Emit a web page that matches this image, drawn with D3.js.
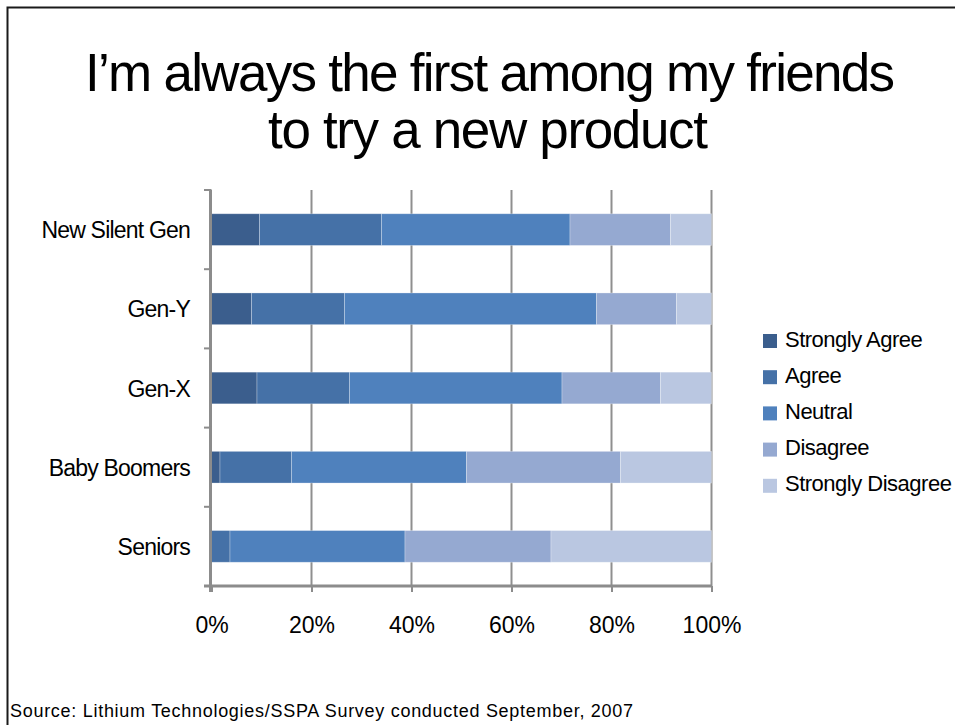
<!DOCTYPE html>
<html lang="en">
<head>
    <meta charset="UTF-8">
    <title>First among my friends</title>
    <script src="https://d3js.org/d3.v7.min.js"></script>
    <style>
        body { margin: 0; background: #fff; }
        svg text { font-family: "Liberation Sans", Arial, sans-serif; fill: #000; }
    </style>
</head>
<body>
<svg width="955" height="725"></svg>
<script>
    // data
    var groups = ["New Silent Gen", "Gen-Y", "Gen-X", "Baby Boomers", "Seniors"];
    var answers = ["Strongly Agree", "Agree", "Neutral", "Disagree", "Strongly Disagree"];
    var stronglyAgree    = [9.6, 8.0, 9.1, 1.7, 0];
    var agree            = [24.4, 18.6, 18.5, 14.3, 3.7];
    var neutral          = [37.7, 50.4, 42.5, 35.0, 35.0];
    var disagree         = [20.1, 16.0, 19.7, 30.8, 29.2];
    var stronglyDisagree = [8.2, 7.0, 10.2, 18.2, 32.1];
    var xTicks = [0, 20, 40, 60, 80, 100];
    var colors = ["#3b5e8d", "#4571a7", "#4f81bd", "#95a9d1", "#bac7e1"];

    var svg = d3.select("svg");

    // slide frame (top + left edge)
    svg.append("path")
        .attr("d", "M7.5,725 V7.5 H955")
        .attr("fill", "none")
        .attr("stroke", "#1a1a1a")
        .attr("stroke-width", 2);

    // title, squeezed like the original slide
    var title = svg.append("text")
        .attr("text-anchor", "middle")
        .attr("font-size", 53);
    title.append("tspan").attr("x", 490).attr("y", 91)
        .attr("textLength", 810).attr("lengthAdjust", "spacing")
        .text("I\u2019m always the first among my friends");
    title.append("tspan").attr("x", 488).attr("y", 148)
        .attr("textLength", 440).attr("lengthAdjust", "spacing")
        .text("to try a new product");

    var table = groups.map(function(g, i) {
        return {group: g, "Strongly Agree": stronglyAgree[i], "Agree": agree[i], "Neutral": neutral[i],
                "Disagree": disagree[i], "Strongly Disagree": stronglyDisagree[i]};
    });
    var stacked = d3.stack().keys(answers)(table);

    var x = d3.scaleLinear().domain([0, 100]).range([211.5, 711.5]);
    var y = d3.scaleBand().domain(groups).range([190, 586]).paddingInner(0.6).paddingOuter(0.3);
    var color = d3.scaleOrdinal().domain(answers).range(colors);

    // gridlines
    svg.append("g").selectAll("line")
        .data(xTicks.slice(1))
        .enter().append("line")
        .attr("x1", function(d) { return x(d); })
        .attr("x2", function(d) { return x(d); })
        .attr("y1", 190).attr("y2", 586)
        .attr("stroke", "#8f8f8f")
        .attr("stroke-width", 2);

    // bars
    svg.append("g").selectAll("g")
        .data(stacked)
        .enter().append("g")
        .attr("fill", function(d) { return color(d.key); })
        .selectAll("rect")
        .data(function(d) { return d; })
        .enter().append("rect")
        .attr("x", function(d) { return x(d[0]); })
        .attr("y", function(d) { return y(d.data.group); })
        .attr("width", function(d) { return x(d[1]) - x(d[0]); })
        .attr("height", y.bandwidth())
        .attr("stroke", "#ffffff")
        .attr("stroke-opacity", 0.35)
        .attr("stroke-width", 0.8);

    // y axis: ticks between categories
    var bounds = d3.range(groups.length + 1).map(function(i) { return 190 + i * y.step(); });
    var yAxis = svg.append("g");
    yAxis.append("line")
        .attr("x1", x(0) - 1).attr("x2", x(0) - 1)
        .attr("y1", 190).attr("y2", 592)
        .attr("stroke", "#8c8c8c").attr("stroke-width", 3);
    yAxis.selectAll(".tk")
        .data(bounds)
        .enter().append("line")
        .attr("class", "tk")
        .attr("x1", 204).attr("x2", x(0))
        .attr("y1", function(d) { return d; })
        .attr("y2", function(d) { return d; })
        .attr("stroke", "#8c8c8c").attr("stroke-width", 2);
    yAxis.selectAll("text")
        .data(groups)
        .enter().append("text")
        .attr("x", 190)
        .attr("y", function(d) { return y(d) + y.bandwidth() / 2 + 8.5; })
        .attr("text-anchor", "end")
        .attr("font-size", 23)
        .attr("letter-spacing", "-0.8")
        .text(function(d) { return d; });

    // x axis
    var xAxis = svg.append("g").attr("transform", "translate(0,586)")
        .call(d3.axisBottom(x).tickValues(xTicks).tickSize(6).tickFormat(function(d) { return d + "%"; }));
    xAxis.select(".domain").attr("stroke", "#8c8c8c").attr("stroke-width", 3).attr("d", "M204,0H711.5");
    xAxis.selectAll(".tick line").attr("stroke", "#8c8c8c").attr("stroke-width", 2);
    xAxis.selectAll(".tick text")
        .attr("font-size", 23)
        .attr("font-family", "Liberation Sans, Arial, sans-serif")
        .attr("fill", "#000")
        .attr("y", 31);

    // legend
    var legend = svg.append("g").selectAll("g")
        .data(answers)
        .enter().append("g")
        .attr("transform", function(d, i) { return "translate(763," + (341 + i * 36.2) + ")"; });
    legend.append("rect")
        .attr("x", 0).attr("y", -7)
        .attr("width", 14).attr("height", 14)
        .attr("fill", function(d) { return color(d); });
    legend.append("text")
        .attr("x", 22).attr("y", 5.5)
        .attr("font-size", 22)
        .attr("letter-spacing", "-0.5")
        .text(function(d) { return d; });

    // source note
    svg.append("text")
        .attr("x", 10).attr("y", 717)
        .attr("font-size", 18)
        .attr("textLength", 623).attr("lengthAdjust", "spacing")
        .text("Source:  Lithium Technologies/SSPA Survey conducted September, 2007");
</script>
</body>
</html>
